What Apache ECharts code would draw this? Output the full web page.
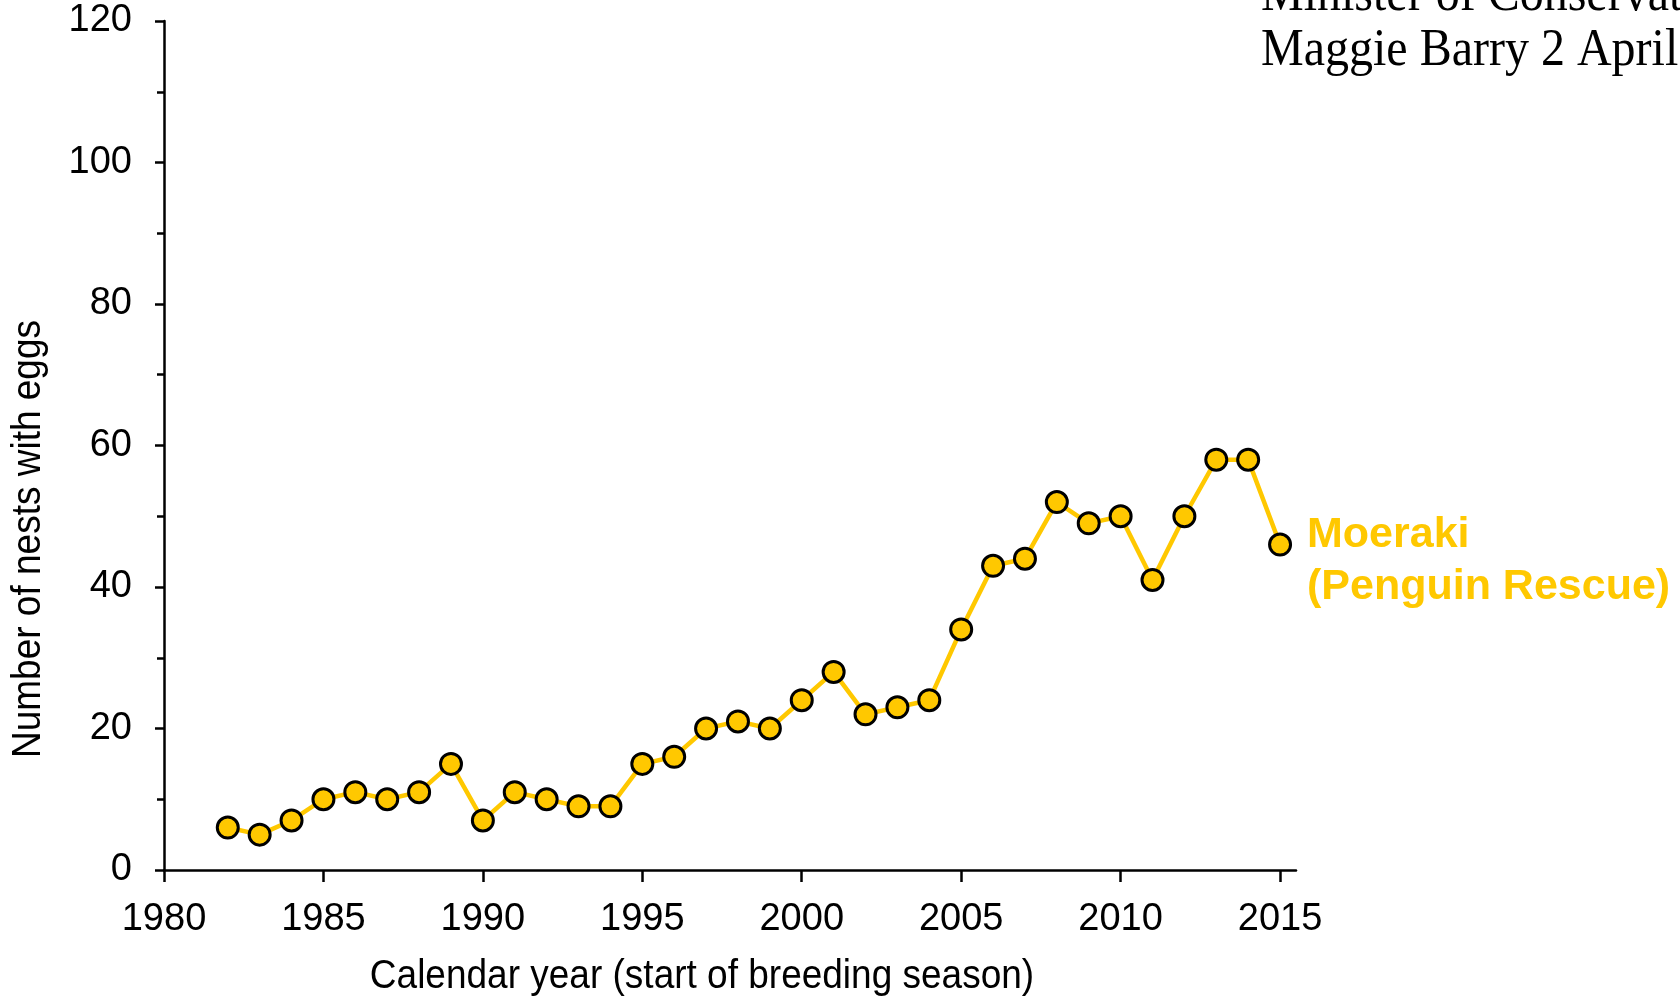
<!DOCTYPE html>
<html>
<head>
<meta charset="utf-8">
<script src="https://cdn.jsdelivr.net/npm/echarts@6/dist/echarts.min.js"></script>
<style>
  html, body { margin: 0; padding: 0; background: #fff; }
  #chart { width: 1680px; height: 999px; }
</style>
</head>
<body>
<div id="chart"></div>
<script>
// Moeraki nests with eggs, by calendar year
const years = [1982, 1983, 1984, 1985, 1986, 1987, 1988, 1989, 1990, 1991, 1992, 1993,
  1994, 1995, 1996, 1997, 1998, 1999, 2000, 2001, 2002, 2003, 2004, 2005, 2006, 2007,
  2008, 2009, 2010, 2011, 2012, 2013, 2014, 2015];
const nests = [6, 5, 7, 10, 11, 10, 11, 15, 7, 11, 10, 9,
  9, 15, 16, 20, 21, 20, 24, 28, 22, 23, 24, 34, 43, 44,
  52, 49, 50, 41, 50, 58, 58, 46];
const xTicks = [1980, 1985, 1990, 1995, 2000, 2005, 2010, 2015];
const seriesName = ['Moeraki', '(Penguin Rescue)'];
const noteLines = ['Minister of Conservation', 'Maggie Barry 2 April 2016'];

const yellow = '#FFC800';
const sans = 'Liberation Sans, Arial, sans-serif';
const serif = 'Liberation Serif, Times New Roman, serif';

const chart = echarts.init(document.getElementById('chart'));

chart.setOption({
  animation: false,
  backgroundColor: '#fff',
  grid: { left: 164, right: 384, top: 21, bottom: 129, containLabel: false },
  xAxis: {
    type: 'value',
    min: 1980,
    max: 2015.5,
    axisLine: { show: true, onZero: false, lineStyle: { color: '#000', width: 2.5 } },
    axisTick: { show: true, length: 12, lineStyle: { color: '#000', width: 2.5 }, customValues: xTicks },
    axisLabel: {
      customValues: xTicks,
      formatter: (v) => String(v),
      color: '#000', fontFamily: sans, fontSize: 38, margin: 31
    },
    splitLine: { show: false }
  },
  yAxis: {
    type: 'value',
    min: 0,
    max: 120,
    interval: 20,
    axisLine: { show: true, lineStyle: { color: '#000', width: 2.5 } },
    axisTick: { show: true, length: 9, lineStyle: { color: '#000', width: 2.5 } },
    minorTick: { show: true, splitNumber: 2, length: 7, lineStyle: { color: '#000', width: 2.5 } },
    axisLabel: { color: '#000', fontFamily: sans, fontSize: 38, margin: 32 },
    splitLine: { show: false }
  },
  graphic: [
    {
      type: 'text', x: 702, y: 977, scaleY: 1.08,
      style: {
        text: 'Calendar year (start of breeding season)',
        font: '37px ' + sans, fill: '#000', align: 'center', verticalAlign: 'middle'
      }
    },
    {
      type: 'text', x: 29, y: 539, rotation: Math.PI / 2, scaleY: 1.08,
      style: {
        text: 'Number of nests with eggs',
        font: '37px ' + sans, fill: '#000', align: 'center', verticalAlign: 'middle'
      }
    },
    {
      type: 'text', x: 1307, y: 535,
      style: {
        text: seriesName[0],
        font: 'bold 43px ' + sans, fill: yellow, align: 'left', verticalAlign: 'middle'
      }
    },
    {
      type: 'text', x: 1307, y: 587,
      style: {
        text: seriesName[1],
        font: 'bold 43px ' + sans, fill: yellow, align: 'left', verticalAlign: 'middle'
      }
    },
    {
      type: 'text', x: 1261, y: -4, scaleY: 1.08,
      style: {
        text: noteLines[0],
        font: '48px ' + serif, fill: '#000', align: 'left', verticalAlign: 'middle'
      }
    },
    {
      type: 'text', x: 1261, y: 51, scaleY: 1.08,
      style: {
        text: noteLines[1],
        font: '48px ' + serif, fill: '#000', align: 'left', verticalAlign: 'middle'
      }
    }
  ],
  series: [
    {
      name: 'Moeraki (Penguin Rescue)',
      type: 'line',
      data: years.map((y, i) => [y, nests[i]]),
      symbol: 'circle',
      symbolSize: 21,
      lineStyle: { color: yellow, width: 4.5 },
      itemStyle: { color: yellow, borderColor: '#000', borderWidth: 3 },
      z: 3
    }
  ]
});
</script>
</body>
</html>
